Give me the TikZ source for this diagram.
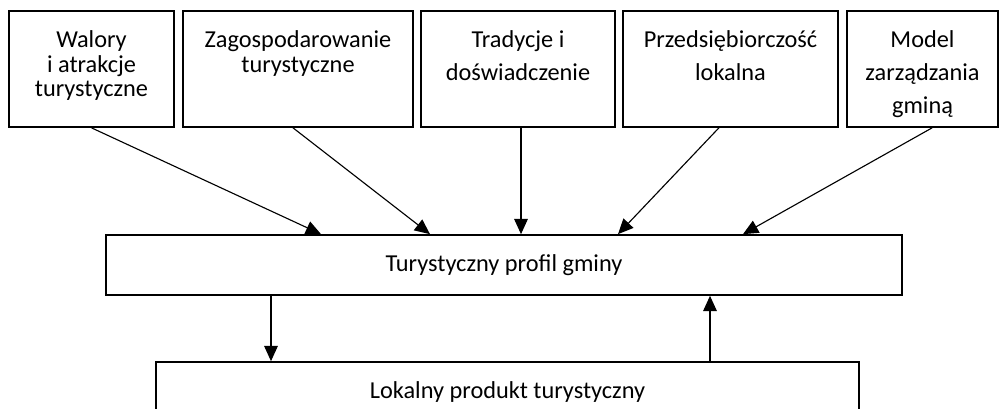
\documentclass[tikz,border=0pt]{standalone}
\usepackage{fontspec}
\setmainfont{Carlito}
\usetikzlibrary{arrows.meta}
\begin{document}
\begin{tikzpicture}
      \tikzstyle{box}=[draw,line width=1.2pt,rectangle,inner sep=0pt]
      \tikzstyle{boxtext}=[align=center,inner sep=0pt,anchor=north,font=\fontsize{17.3}{17.6}\selectfont]
      \tikzstyle{edge}=[draw,line width=0.8pt,-{Triangle[length=0.38cm,width=0.34cm]}]
      \clip (0,0) rectangle (24.975,-10.225);
      % top row
      \node[box,minimum width=4.125cm,minimum height=2.9cm] (A) at (2.2875,-1.725) {};
      \node[box,minimum width=5.75cm,minimum height=2.9cm] (B) at (7.45,-1.725) {};
      \node[box,minimum width=4.85cm,minimum height=2.9cm] (C) at (12.95,-1.725) {};
      \node[box,minimum width=5.375cm,minimum height=2.9cm] (D) at (18.2625,-1.725) {};
      \node[box,minimum width=3.775cm,minimum height=2.9cm] (E) at (23.0625,-1.725) {};
      \node[boxtext] (At) at ([yshift=-0.5cm]A.north) {Walory\\i atrakcje\\turystyczne};
      \node[boxtext] (Bt) at ([yshift=-0.5cm]B.north) {Zagospodarowanie\\turystyczne};
      \node[boxtext] (Ct) at ([yshift=-0.5cm]C.north) {Tradycje i\\[6pt]doświadczenie};
      \node[boxtext] (Dt) at ([yshift=-0.5cm]D.north) {Przedsiębiorczość\\[6pt]lokalna};
      \node[boxtext] (Et) at ([yshift=-0.5cm]E.north) {Model\\[6pt]zarządzania\\[6pt]gminą};
      % profile and product
      \node[box,minimum width=19.9cm,minimum height=1.5cm,font=\fontsize{17.3}{17.6}\selectfont] (P) at (12.6,-6.625) {Turystyczny profil gminy};
      \node[box,minimum width=17.575cm,minimum height=1.5cm,font=\fontsize{17.3}{17.6}\selectfont] (L) at (12.6875,-9.8) {Lokalny produkt turystyczny};
      \path[edge] (A.south) -- ([xshift=-4.575cm]P.north);
      \path[edge] ([xshift=-0.125cm]B.south) -- ([xshift=-1.85cm]P.north);
      \path[edge] ([xshift=0.075cm]C.south) -- ([xshift=0.075cm]C.south |- P.north);
      \path[edge] ([xshift=-0.29cm]D.south) -- ([xshift=2.85cm]P.north);
      \path[edge] ([xshift=0.24cm]E.south) -- ([xshift=5.975cm]P.north);
      \path[edge] ([xshift=-5.825cm]P.south) -- ([xshift=-5.825cm]P.south |- L.north);
      \path[edge] ([xshift=5.15cm]P.south |- L.north) -- ([xshift=5.15cm]P.south);
    \end{tikzpicture}
\end{document}
